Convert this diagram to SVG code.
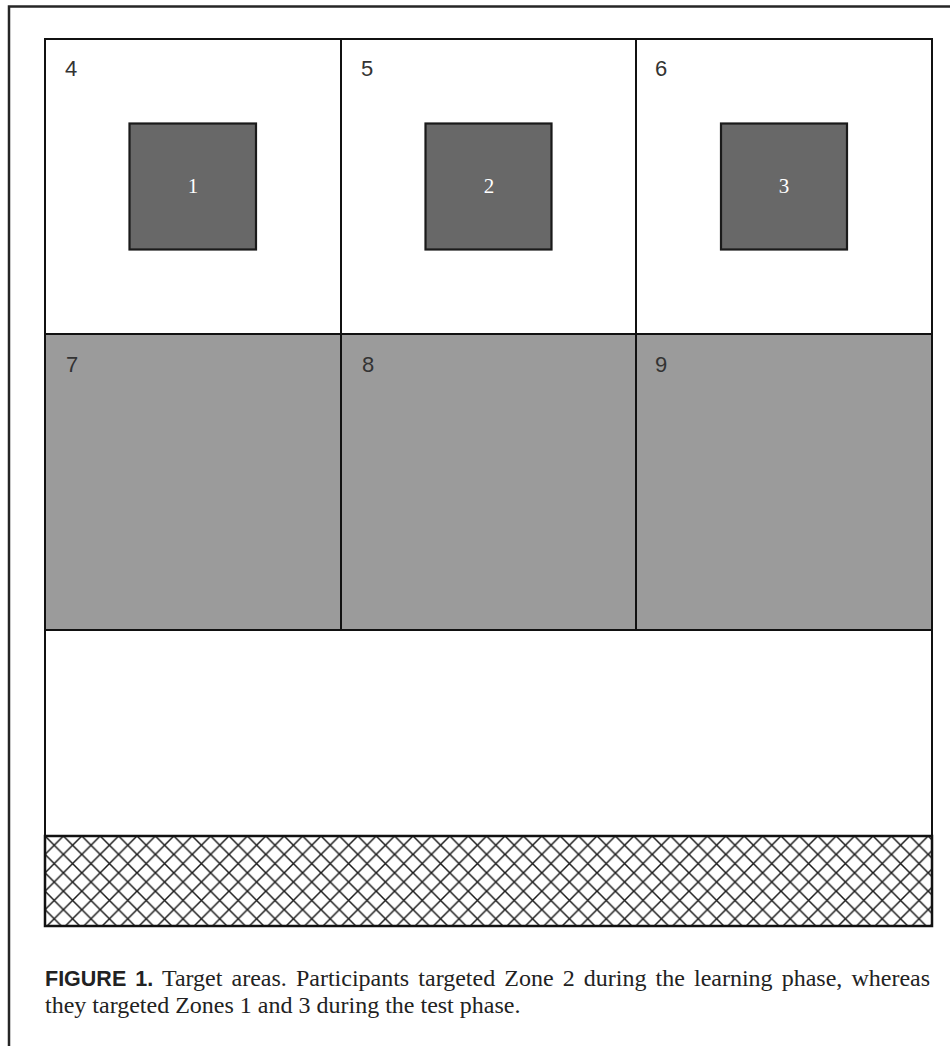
<svg xmlns="http://www.w3.org/2000/svg" width="950" height="1046" viewBox="0 0 950 1046">
<defs>
<pattern id="hatch" patternUnits="userSpaceOnUse" x="45" y="836" width="18.4" height="18.4">
<path d="M0,0 L18.4,18.4 M18.4,0 L0,18.4 M-1,17.4 L1,19.4 M17.4,-1 L19.4,1" stroke="#1a1a1a" stroke-width="1.5" fill="none"/>
</pattern>
<style>
.cell{stroke:#111;stroke-width:2;}
.white{fill:#fff;}
.grey{fill:#9b9b9b;}
.sq{fill:#686868;stroke:#1a1a1a;stroke-width:2.2;}
.num{font-family:"Liberation Sans",Arial,sans-serif;font-size:22px;fill:#333;}
.sqnum{font-family:"Liberation Serif","Times New Roman",serif;font-size:21px;fill:#fff;text-anchor:middle;}
.cap{font-family:"Liberation Serif","Times New Roman",serif;font-size:24px;fill:#222;}
.capb{font-family:"Liberation Sans",Arial,sans-serif;font-weight:bold;font-size:21.5px;}
</style>
</defs>
<rect width="950" height="1046" fill="#fff"/>
<g id="frame">
<path d="M9,1046 L9,6.5 L950,6.5" fill="none" stroke="#262626" stroke-width="2.5"/>
</g>
<g id="cell4"><rect class="cell white" x="45" y="39" width="296" height="295"/><text class="num" x="65" y="76">4</text></g>
<g id="cell5"><rect class="cell white" x="341" y="39" width="295" height="295"/><text class="num" x="361" y="76">5</text></g>
<g id="cell6"><rect class="cell white" x="636" y="39" width="296" height="295"/><text class="num" x="655" y="76">6</text></g>
<g id="cell7"><rect class="cell grey" x="45" y="334" width="296" height="296"/><text class="num" x="66" y="372">7</text></g>
<g id="cell8"><rect class="cell grey" x="341" y="334" width="295" height="296"/><text class="num" x="362" y="372">8</text></g>
<g id="cell9"><rect class="cell grey" x="636" y="334" width="296" height="296"/><text class="num" x="655" y="372">9</text></g>
<g id="zone1"><rect class="sq" x="129.5" y="123.5" width="126.5" height="126"/><text class="sqnum" x="193" y="193">1</text></g>
<g id="zone2"><rect class="sq" x="425.5" y="123.5" width="126" height="126"/><text class="sqnum" x="489" y="193">2</text></g>
<g id="zone3"><rect class="sq" x="721" y="123.5" width="126" height="126"/><text class="sqnum" x="784" y="193">3</text></g>
<g id="whiteband"><rect class="cell white" x="45" y="630" width="887" height="206"/></g>
<g id="hatchband"><rect x="45" y="836" width="887" height="90" fill="url(#hatch)" stroke="#111" stroke-width="2.5"/></g>
<g id="connectors"></g>
<g id="caption">
<text class="cap" x="45" y="986" word-spacing="3.1"><tspan class="capb">FIGURE 1.</tspan> Target areas. Participants targeted Zone 2 during the learning phase, whereas</text>
<text class="cap" x="45" y="1013">they targeted Zones 1 and 3 during the test phase.</text>
</g>
</svg>
